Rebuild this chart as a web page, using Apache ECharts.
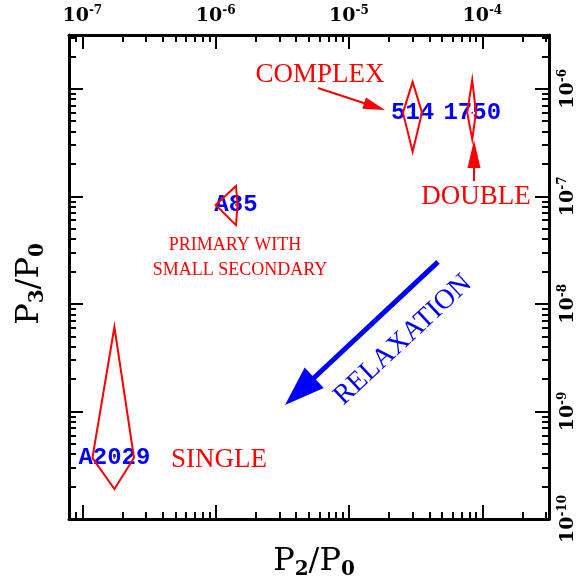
<!DOCTYPE html>
<html>
<head>
<meta charset="utf-8">
<script src="https://cdn.jsdelivr.net/npm/echarts@6/dist/echarts.min.js"></script>
<style>
  html, body { margin: 0; padding: 0; background: #ffffff; }
  #chart { width: 577px; height: 583px; }
</style>
</head>
<body>
<div id="chart"></div>
<script>
// Power ratios of the clusters: P2/P0 (horizontal) and P3/P0 (vertical),
// each with the low / high ends of its uncertainty range.
const clusters = ['A2029', 'A85', '514', '1750'];
const p2 = [1.74e-7, 1.42e-6, 3.0e-5, 8.4e-5];
const p2Low = [1.19e-7, 1.0e-6, 2.54e-5, 7.7e-5];
const p2High = [2.44e-7, 1.46e-6, 3.53e-5, 8.96e-5];
const p3 = [3.7e-10, 8.3e-8, 6.0e-7, 6.0e-7];
const p3Low = [1.9e-10, 5.4e-8, 2.6e-7, 3.4e-7];
const p3High = [6.1e-9, 1.25e-7, 1.16e-6, 1.21e-6];

// Decade exponents that carry labels
const xDecades = [-7, -6, -5, -4];
const yDecades = [-10, -9, -8, -7, -6];

// Axis extents, as powers of ten
const xRange = [-7.1, -3.5];
const yRange = [-10, -5.5];

const lg = Math.log10;

// Logarithmic minor ticks (2..9 within each decade) inside a range
function minorTicks(range) {
  const out = [];
  for (let d = Math.floor(range[0]) - 1; d <= Math.ceil(range[1]); d++) {
    for (let k = 2; k <= 9; k++) {
      const v = d + lg(k);
      if (v >= range[0] - 1e-9 && v <= range[1] + 1e-9) out.push(v);
    }
  }
  return out;
}

const RED = '#ff0000';
const BLUE = '#0000ff';
const BLACK = '#000000';

const tickFont = 'DejaVu Serif';
const decadeRich = {
  m: { fontFamily: tickFont, fontWeight: 'bold', fontSize: 19, color: BLACK, lineHeight: 22 },
  sup: { fontFamily: tickFont, fontWeight: 'bold', fontSize: 12, color: BLACK, lineHeight: 12, verticalAlign: 'top' }
};
const decadeLabel = v => '{m|10}{sup|' + v + '}';

function axisDef(dim, position, ticks, len, withLine, label) {
  const range = dim === 'x' ? xRange : yRange;
  return {
    type: 'value',
    position: position,
    min: range[0],
    max: range[1],
    axisLine: { show: withLine, onZero: false, lineStyle: { color: BLACK, width: 3 } },
    splitLine: { show: false },
    axisTick: { show: true, inside: true, length: len, customValues: ticks,
                lineStyle: { color: BLACK, width: 2 } },
    axisLabel: label || { show: false }
  };
}

const nameRich = {
  m: { fontFamily: 'DejaVu Serif', fontSize: 32, color: BLACK, lineHeight: 36 },
  sub: { fontFamily: 'DejaVu Serif', fontWeight: 'bold', fontSize: 20, color: BLACK, lineHeight: 20, verticalAlign: 'bottom' }
};

const xAxes = [
  Object.assign(axisDef('x', 'bottom', xDecades, 14, true, null), {
    name: '{m|P}{sub|2}{m|/P}{sub|0}', nameLocation: 'middle', nameGap: 25,
    nameTextStyle: { rich: nameRich, padding: [0, 0, 0, 10] }
  }),
  axisDef('x', 'bottom', minorTicks(xRange), 7, false, null),
  axisDef('x', 'top', xDecades, 14, true, {
    show: true, customValues: xDecades, margin: 8,
    formatter: decadeLabel, rich: decadeRich
  }),
  axisDef('x', 'top', minorTicks(xRange), 7, false, null)
];

const yAxes = [
  Object.assign(axisDef('y', 'left', yDecades, 14, true, null), {
    name: '{m|P}{sub|3}{m|/P}{sub|0}', nameLocation: 'middle', nameGap: 21, nameRotate: 90,
    nameTextStyle: { rich: nameRich, padding: [0, 14, 0, 0] }
  }),
  axisDef('y', 'left', minorTicks(yRange), 7, false, null),
  axisDef('y', 'right', yDecades, 14, true, {
    show: true, customValues: yDecades, margin: 8, rotate: 90,
    formatter: decadeLabel, rich: decadeRich
  }),
  axisDef('y', 'right', minorTicks(yRange), 7, false, null)
];

// Annotation anchors, in powers of ten [x, y]
const notes = {
  complex: [-5.2175, -5.872],
  double: [-4.0475, -7.006],
  single: [-5.975, -9.451],
  primary: [-5.855, -7.452],
  secondary: [-5.8175, -7.685],
  relaxation: [-4.595, -8.336]
};
const arrowComplex = [[-5.2325, -5.993], [-4.73, -6.197]];
const arrowDouble = [[-4.0625, -6.857], [-4.0625, -6.476]];
const arrowRelax = [[-4.3325, -7.61], [-5.48, -8.94]];

const serif = 'Liberation Serif';

function noteItem(name, at, size, color, rotate) {
  return {
    name: name,
    value: at,
    label: { fontSize: size, color: color, rotate: rotate || 0 }
  };
}

function arrowSeries(seg, color, width, headLen, headWidth) {
  return {
    type: 'custom',
    coordinateSystem: 'cartesian2d',
    silent: true,
    z: 6,
    data: [[seg[0][0], seg[0][1], seg[1][0], seg[1][1]]],
    encode: { x: [0, 2], y: [1, 3] },
    renderItem: function (params, api) {
      const a = api.coord([api.value(0), api.value(1)]);
      const b = api.coord([api.value(2), api.value(3)]);
      const dx = b[0] - a[0], dy = b[1] - a[1];
      const len = Math.hypot(dx, dy);
      const ux = dx / len, uy = dy / len;
      const nx = -uy, ny = ux;
      const base = [b[0] - ux * headLen, b[1] - uy * headLen];
      return {
        type: 'group',
        children: [
          { type: 'line', shape: { x1: a[0], y1: a[1], x2: base[0] + ux * 2, y2: base[1] + uy * 2 },
            style: { stroke: color, lineWidth: width } },
          { type: 'polygon',
            shape: { points: [b,
              [base[0] + nx * headWidth / 2, base[1] + ny * headWidth / 2],
              [base[0] - nx * headWidth / 2, base[1] - ny * headWidth / 2]] },
            style: { fill: color } }
        ]
      };
    }
  };
}

const chart = echarts.init(document.getElementById('chart'), null, { renderer: 'canvas' });

chart.setOption({
  animation: false,
  backgroundColor: '#ffffff',
  grid: { left: 69, right: 28, top: 35, bottom: 64, containLabel: false, outerBoundsMode: 'none' },
  xAxis: xAxes,
  yAxis: yAxes,
  series: [
    // Cluster names, centred on each measurement
    {
      type: 'scatter',
      silent: true,
      z: 2,
      symbolSize: 2,
      itemStyle: { color: RED, opacity: 1 },
      data: clusters.map((c, i) => ({ name: c, value: [lg(p2[i]), lg(p3[i])] })),
      label: {
        show: true, position: 'inside', formatter: '{b}',
        fontFamily: 'Liberation Mono', fontWeight: 'bold', fontSize: 24, color: BLUE
      }
    },
    // Uncertainty diamonds
    {
      type: 'custom',
      coordinateSystem: 'cartesian2d',
      silent: true,
      z: 5,
      data: clusters.map((c, i) => [lg(p2[i]), lg(p3[i]), lg(p2Low[i]), lg(p2High[i]), lg(p3Low[i]), lg(p3High[i])]),
      encode: { x: 0, y: 1 },
      renderItem: function (params, api) {
        const x = api.value(0), y = api.value(1);
        const pts = [
          api.coord([api.value(2), y]),
          api.coord([x, api.value(5)]),
          api.coord([api.value(3), y]),
          api.coord([x, api.value(4)])
        ];
        return { type: 'polygon', shape: { points: pts },
                 style: { fill: 'none', stroke: RED, lineWidth: 2, lineJoin: 'miter' } };
      }
    },
    // Annotation texts
    {
      type: 'scatter',
      silent: true,
      z: 3,
      symbolSize: 0,
      itemStyle: { opacity: 1 },
      data: [
        noteItem('COMPLEX', notes.complex, 27, RED),
        noteItem('DOUBLE', notes.double, 27, RED),
        noteItem('SINGLE', notes.single, 27, RED),
        noteItem('PRIMARY WITH', notes.primary, 18, RED),
        noteItem('SMALL SECONDARY', notes.secondary, 18, RED),
        noteItem('RELAXATION', notes.relaxation, 28, BLUE, 43)
      ],
      label: { show: true, position: 'inside', formatter: '{b}', fontFamily: serif }
    },
    arrowSeries(arrowComplex, RED, 2, 22, 12),
    arrowSeries(arrowDouble, RED, 2, 28, 13),
    arrowSeries(arrowRelax, BLUE, 5, 40, 28)
  ]
});
</script>
</body>
</html>
